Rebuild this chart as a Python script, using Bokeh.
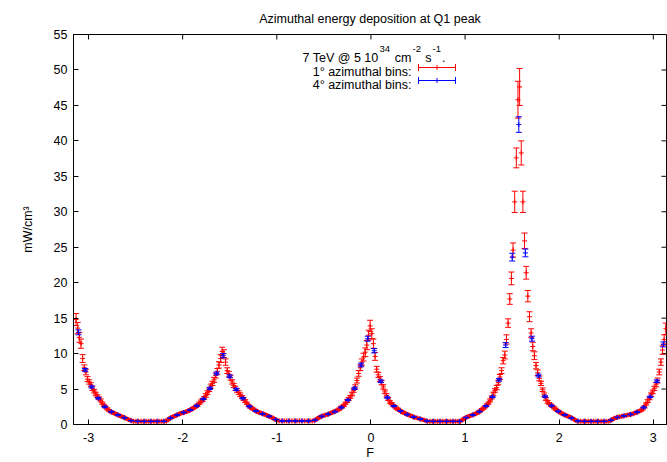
import numpy as np
from bokeh.plotting import figure
from bokeh.models import (ColumnDataSource, Label, Arrow, TeeHead,
                          FixedTicker, Range1d)
from bokeh.embed import file_html
from bokeh.resources import INLINE

# ---------------- data ----------------
TITLE = "Azimuthal energy deposition at Q1 peak"
X_LABEL = "F"
Y_LABEL = "mW/cm³"
LEGEND_HEAD = ["7 TeV @ 5 10", "34", "cm", "-2", "s", "-1", "."]
SERIES_NAMES = ["1° azimuthal bins:", "4° azimuthal bins:"]
x_ticks = [-3, -2, -1, 0, 1, 2, 3]
y_ticks = [0, 5, 10, 15, 20, 25, 30, 35, 40, 45, 50, 55]

fine_bin_deg = 1.0    # 1 degree bins, from -180 deg
coarse_bin_deg = 4.0  # 4 degree bins, from -180 deg

fine_values = [
    14.8, 13.6, 12.3, 11.4, 9.3, 8.0, 7.4, 6.4, 6.0, 5.6,
    5.1, 4.7, 4.3, 4.0, 3.7, 3.4, 3.0, 2.7, 2.45, 2.2,
    2.0, 1.85, 1.7, 1.6, 1.5, 1.4, 1.3, 1.2, 1.1, 1.0,
    0.9, 0.8, 0.7, 0.6, 0.5, 0.45, 0.45, 0.45, 0.45, 0.45,
    0.45, 0.45, 0.45, 0.45, 0.45, 0.45, 0.45, 0.45, 0.45, 0.45,
    0.45, 0.45, 0.45, 0.45, 0.45, 0.45, 0.7, 0.85, 1.0, 1.1,
    1.2, 1.3, 1.4, 1.5, 1.6, 1.65, 1.7, 1.8, 1.9, 2.0,
    2.1, 2.25, 2.4, 2.55, 2.75, 3.0, 3.25, 3.45, 3.75, 4.1,
    4.5, 4.9, 5.4, 5.8, 6.3, 6.9, 7.5, 8.4, 9.3, 10.3,
    10.0, 8.8, 7.6, 7.1, 6.6, 6.0, 5.5, 5.1, 4.8, 4.5,
    4.2, 3.9, 3.6, 3.3, 3.0, 2.7, 2.45, 2.3, 2.15, 2.0,
    1.85, 1.75, 1.65, 1.55, 1.5, 1.4, 1.3, 1.2, 1.1, 1.0,
    0.9, 0.75, 0.6, 0.5, 0.5, 0.5, 0.5, 0.5, 0.5, 0.5,
    0.5, 0.5, 0.5, 0.5, 0.5, 0.5, 0.5, 0.5, 0.5, 0.5,
    0.5, 0.5, 0.5, 0.5, 0.5, 0.5, 0.7, 0.85, 1.0, 1.1,
    1.2, 1.3, 1.35, 1.4, 1.5, 1.6, 1.7, 1.8, 1.9, 2.0,
    2.15, 2.35, 2.5, 2.7, 3.0, 3.3, 3.6, 3.9, 4.3, 4.8,
    5.3, 6.2, 7.2, 8.0, 8.8, 9.5, 10.2, 11.2, 12.6, 13.9,
    12.8, 11.4, 9.6, 7.8, 7.0, 6.4, 5.9, 5.3, 4.6, 4.1,
    3.6, 3.2, 2.95, 2.7, 2.5, 2.3, 2.15, 2.0, 1.85, 1.7,
    1.6, 1.5, 1.4, 1.3, 1.2, 1.1, 1.0, 0.95, 0.9, 0.8,
    0.75, 0.7, 0.6, 0.5, 0.45, 0.45, 0.45, 0.45, 0.45, 0.45,
    0.45, 0.45, 0.45, 0.45, 0.45, 0.45, 0.45, 0.45, 0.45, 0.45,
    0.45, 0.45, 0.45, 0.45, 0.45, 0.6, 0.8, 0.95, 1.05, 1.15,
    1.25, 1.3, 1.4, 1.5, 1.6, 1.75, 1.9, 2.1, 2.3, 2.5,
    2.75, 3.0, 3.4, 3.8, 4.3, 4.8, 5.2, 5.9, 6.7, 7.6,
    9.0, 9.8, 12.0, 14.3, 17.7, 20.6, 24.6, 31.4, 37.6, 45.8,
    47.6, 38.3, 31.4, 25.9, 21.4, 18.1, 15.2, 12.9, 11.0, 9.7,
    8.3, 7.3, 6.5, 5.8, 4.9, 4.2, 3.6, 3.2, 2.95, 2.75,
    2.55, 2.35, 2.15, 1.95, 1.8, 1.65, 1.5, 1.4, 1.3, 1.2,
    1.1, 1.0, 0.9, 0.75, 0.6, 0.45, 0.45, 0.45, 0.45, 0.45,
    0.45, 0.45, 0.45, 0.45, 0.45, 0.45, 0.45, 0.45, 0.45, 0.45,
    0.45, 0.45, 0.45, 0.45, 0.45, 0.5, 0.65, 0.8, 0.9, 1.0,
    1.05, 1.1, 1.15, 1.2, 1.25, 1.3, 1.35, 1.4, 1.45, 1.5,
    1.6, 1.7, 1.8, 1.9, 2.0, 2.2, 2.5, 2.9, 3.3, 3.7,
    4.2, 4.6, 5.1, 5.6, 6.2, 7.4, 8.8, 10.5, 12.0, 13.5,
]

fine_errors = [
    0.85, 0.8, 0.7, 0.65, 0.55, 0.4, 0.4, 0.35, 0.3, 0.3,
    0.3, 0.25, 0.25, 0.2, 0.2, 0.2, 0.15, 0.15, 0.15, 0.15,
    0.12, 0.12, 0.12, 0.12, 0.1, 0.1, 0.1, 0.1, 0.1, 0.08,
    0.08, 0.08, 0.08, 0.08, 0.06, 0.06, 0.06, 0.06, 0.06, 0.06,
    0.06, 0.06, 0.06, 0.06, 0.06, 0.06, 0.06, 0.06, 0.06, 0.06,
    0.06, 0.06, 0.06, 0.06, 0.06, 0.06, 0.08, 0.08, 0.08, 0.1,
    0.1, 0.1, 0.1, 0.1, 0.12, 0.12, 0.12, 0.12, 0.12, 0.12,
    0.15, 0.15, 0.15, 0.15, 0.15, 0.15, 0.2, 0.2, 0.2, 0.25,
    0.25, 0.25, 0.3, 0.3, 0.35, 0.35, 0.4, 0.45, 0.55, 0.6,
    0.55, 0.45, 0.4, 0.4, 0.35, 0.3, 0.3, 0.3, 0.25, 0.25,
    0.25, 0.2, 0.2, 0.2, 0.15, 0.15, 0.15, 0.15, 0.15, 0.12,
    0.12, 0.12, 0.12, 0.12, 0.1, 0.1, 0.1, 0.1, 0.1, 0.08,
    0.08, 0.08, 0.08, 0.06, 0.06, 0.06, 0.06, 0.06, 0.06, 0.06,
    0.06, 0.06, 0.06, 0.06, 0.06, 0.06, 0.06, 0.06, 0.06, 0.06,
    0.06, 0.06, 0.06, 0.06, 0.06, 0.06, 0.08, 0.08, 0.08, 0.1,
    0.1, 0.1, 0.1, 0.1, 0.1, 0.12, 0.12, 0.12, 0.12, 0.12,
    0.15, 0.15, 0.15, 0.15, 0.15, 0.2, 0.2, 0.2, 0.25, 0.25,
    0.3, 0.35, 0.4, 0.4, 0.45, 0.55, 0.6, 0.65, 0.7, 0.8,
    0.7, 0.65, 0.55, 0.4, 0.35, 0.35, 0.3, 0.3, 0.25, 0.25,
    0.2, 0.2, 0.15, 0.15, 0.15, 0.15, 0.15, 0.12, 0.12, 0.12,
    0.12, 0.1, 0.1, 0.1, 0.1, 0.1, 0.08, 0.08, 0.08, 0.08,
    0.08, 0.08, 0.08, 0.06, 0.06, 0.06, 0.06, 0.06, 0.06, 0.06,
    0.06, 0.06, 0.06, 0.06, 0.06, 0.06, 0.06, 0.06, 0.06, 0.06,
    0.06, 0.06, 0.06, 0.06, 0.06, 0.08, 0.08, 0.08, 0.1, 0.1,
    0.1, 0.1, 0.1, 0.1, 0.12, 0.12, 0.12, 0.15, 0.15, 0.15,
    0.15, 0.15, 0.2, 0.2, 0.25, 0.25, 0.3, 0.3, 0.35, 0.4,
    0.45, 0.55, 0.65, 0.6, 0.75, 0.9, 1.0, 1.5, 1.4, 2.6,
    2.6, 1.7, 1.5, 1.1, 0.9, 0.8, 0.7, 0.6, 0.6, 0.55,
    0.45, 0.4, 0.35, 0.3, 0.25, 0.25, 0.2, 0.2, 0.15, 0.15,
    0.15, 0.15, 0.15, 0.12, 0.12, 0.12, 0.1, 0.1, 0.1, 0.1,
    0.1, 0.08, 0.08, 0.08, 0.08, 0.06, 0.06, 0.06, 0.06, 0.06,
    0.06, 0.06, 0.06, 0.06, 0.06, 0.06, 0.06, 0.06, 0.06, 0.06,
    0.06, 0.06, 0.06, 0.06, 0.06, 0.06, 0.08, 0.08, 0.08, 0.08,
    0.1, 0.1, 0.1, 0.1, 0.1, 0.1, 0.1, 0.1, 0.1, 0.1,
    0.12, 0.12, 0.12, 0.12, 0.12, 0.15, 0.15, 0.15, 0.2, 0.2,
    0.25, 0.25, 0.3, 0.3, 0.35, 0.4, 0.45, 0.6, 0.65, 0.8,
]

coarse_values = [
    13.0, 7.7, 5.3, 3.7, 2.5, 1.8, 1.35, 0.95, 0.55, 0.45,
    0.45, 0.45, 0.45, 0.45, 0.9, 1.35, 1.7, 2.05, 2.65, 3.6,
    5.1, 7.2, 9.7, 6.8, 4.95, 3.7, 2.55, 1.9, 1.5, 1.15,
    0.7, 0.5, 0.5, 0.5, 0.5, 0.5, 0.6, 1.15, 1.45, 1.8,
    2.4, 3.45, 5.1, 8.4, 12.1, 10.4, 6.1, 3.8, 2.6, 1.9,
    1.4, 1.05, 0.78, 0.5, 0.45, 0.45, 0.45, 0.45, 0.45, 0.98,
    1.35, 1.82, 2.6, 3.9, 6.3, 11.2, 23.6, 42.3, 24.2, 12.1,
    6.9, 3.95, 2.65, 1.85, 1.35, 0.9, 0.5, 0.45, 0.45, 0.45,
    0.45, 0.6, 1.0, 1.22, 1.42, 1.75, 2.4, 3.9, 6.1, 11.3,
]

coarse_errors = [
    0.35, 0.2, 0.15, 0.1, 0.08, 0.06, 0.05, 0.04, 0.03, 0.03,
    0.03, 0.03, 0.03, 0.03, 0.04, 0.05, 0.06, 0.07, 0.08, 0.1,
    0.15, 0.2, 0.3, 0.2, 0.15, 0.1, 0.08, 0.06, 0.05, 0.05,
    0.04, 0.03, 0.03, 0.03, 0.03, 0.03, 0.03, 0.05, 0.05, 0.06,
    0.08, 0.1, 0.15, 0.25, 0.35, 0.3, 0.18, 0.1, 0.08, 0.06,
    0.05, 0.05, 0.04, 0.03, 0.03, 0.03, 0.03, 0.03, 0.03, 0.04,
    0.05, 0.06, 0.08, 0.1, 0.18, 0.35, 0.55, 1.1, 0.55, 0.35,
    0.2, 0.1, 0.08, 0.06, 0.05, 0.04, 0.03, 0.03, 0.03, 0.03,
    0.03, 0.03, 0.04, 0.05, 0.05, 0.06, 0.08, 0.1, 0.18, 0.35,
]

# ---------------- styling ----------------
FONT = "Liberation Sans"
FS = "12.5px"
RED = "#ff0000"
BLUE = "#0000ff"
X_MIN, X_MAX = -3.16, 3.14
Y_MIN, Y_MAX = 0, 55


def make_source(values, errors, bin_deg):
    n = min(len(values), len(errors))
    v = np.asarray(values[:n], dtype=float)
    e = np.asarray(errors[:n], dtype=float)
    centers_deg = -180.0 + bin_deg * (np.arange(n) + 0.5)
    x = np.deg2rad(centers_deg)
    return ColumnDataSource(dict(x=x, y=v, lo=v - e, hi=v + e))


fine_src = make_source(fine_values, fine_errors, fine_bin_deg)
coarse_src = make_source(coarse_values, coarse_errors, coarse_bin_deg)

p = figure(width=667, height=462,
           x_range=Range1d(X_MIN, X_MAX), y_range=Range1d(Y_MIN, Y_MAX),
           output_backend="svg", toolbar_location=None,
           min_border_left=73, min_border_right=1,
           min_border_top=34, min_border_bottom=38)
p.background_fill_color = "white"
p.border_fill_color = "white"
p.outline_line_color = "black"
p.outline_line_width = 1
p.grid.visible = False

p.title.text = TITLE
p.title.text_font = FONT
p.title.text_font_size = FS
p.title.text_font_style = "normal"
p.title.text_color = "black"
p.title.align = "center"
p.title.vertical_align = "top"
p.title.standoff = 14


def style_axis(ax):
    ax.axis_line_color = "black"
    ax.axis_line_width = 1
    ax.major_tick_line_color = "black"
    ax.major_tick_in = 5
    ax.major_tick_out = 0
    ax.minor_tick_line_color = None
    ax.major_label_text_font = FONT
    ax.major_label_text_color = "black"
    ax.major_label_text_font_size = FS
    ax.axis_label_text_font = FONT
    ax.axis_label_text_font_size = FS
    ax.axis_label_text_font_style = "normal"
    ax.axis_label_text_color = "black"


xa = p.xaxis[0]
xa.ticker = FixedTicker(ticks=x_ticks)
xa.major_label_overrides = {t: str(t) for t in x_ticks}
style_axis(xa)
xa.major_label_standoff = 8
xa.axis_label = X_LABEL
xa.axis_label_standoff = 1

ya = p.yaxis[0]
ya.ticker = FixedTicker(ticks=y_ticks)
ya.major_label_overrides = {t: str(t) for t in y_ticks}
style_axis(ya)
ya.major_label_standoff = 6
ya.axis_label = Y_LABEL
ya.axis_label_standoff = 16

# mirror tick marks on the top and right borders
p.ray(x=x_ticks, y=[Y_MAX] * len(x_ticks), length=5, length_units="screen",
      angle=-np.pi / 2, line_color="black", line_width=1)
p.ray(x=[X_MAX] * len(y_ticks), y=y_ticks, length=5, length_units="screen",
      angle=np.pi, line_color="black", line_width=1)


def draw_errorbars(src, color):
    p.segment(x0="x", y0="lo", x1="x", y1="hi", source=src,
              line_color=color, line_width=1)
    p.scatter(x="x", y="hi", source=src, marker="dash", size=6,
              line_color=color, line_width=1)
    p.scatter(x="x", y="lo", source=src, marker="dash", size=6,
              line_color=color, line_width=1)
    p.scatter(x="x", y="y", source=src, marker="cross", size=5,
              line_color=color, line_width=1)


draw_errorbars(fine_src, RED)
draw_errorbars(coarse_src, BLUE)


def label(x, y, text, align="left", size=FS):
    p.add_layout(Label(x=x, y=y, x_units="screen", y_units="screen", text=text,
                       text_font=FONT, text_font_size=size, text_color="black",
                       text_align=align, text_baseline="alphabetic"))


# key heading with superscripts (frame-relative screen coords);
# each base-line piece is right-aligned against the superscript that follows it
SUP = "9.5px"
BASE_Y, SUP_Y = 367, 375.5
label(305, BASE_Y, LEGEND_HEAD[0], "right")
label(306, SUP_Y, LEGEND_HEAD[1], size=SUP)
label(338, BASE_Y, LEGEND_HEAD[2], "right")
label(339, SUP_Y, LEGEND_HEAD[3], size=SUP)
label(358, BASE_Y, LEGEND_HEAD[4], "right")
label(359, SUP_Y, LEGEND_HEAD[5], size=SUP)
label(368.5, BASE_Y, LEGEND_HEAD[6])

# key entries
for name, color, text_y, line_y in [(SERIES_NAMES[0], RED, 353, 357),
                                     (SERIES_NAMES[1], BLUE, 340, 344)]:
    label(338, text_y, name, "right")
    p.add_layout(Arrow(x_start=345, y_start=line_y, x_end=382, y_end=line_y,
                       start_units="screen", end_units="screen",
                       start=TeeHead(size=7, line_color=color, line_width=1),
                       end=TeeHead(size=7, line_color=color, line_width=1),
                       line_color=color, line_width=1))
    p.add_layout(Arrow(x_start=363.5, y_start=line_y - 2.5, x_end=363.5, y_end=line_y + 2.5,
                       start_units="screen", end_units="screen",
                       start=None, end=None, line_color=color, line_width=1))

open("out.html", "w").write(file_html(p, INLINE))
